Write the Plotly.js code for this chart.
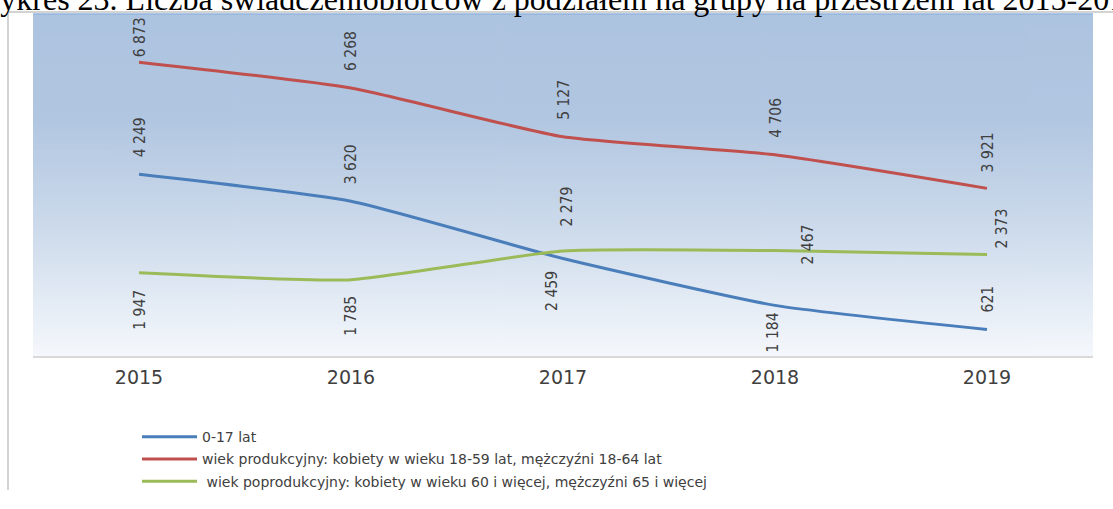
<!DOCTYPE html>
<html><head><meta charset="utf-8">
<script src="https://cdn.plot.ly/plotly-3.0.1.min.js"></script>
<style>html,body{margin:0;padding:0;background:#fff;overflow:hidden}</style>
</head><body><div id="chart" style="width:1113px;height:509px"></div>
<script>
// ---- data ----
const years = ['2015', '2016', '2017', '2018', '2019'];
const seriesNames = [
  '0-17 lat',
  'wiek produkcyjny: kobiety w wieku 18-59 lat, mężczyźni 18-64 lat',
  '\u00a0wiek poprodukcyjny: kobiety w wieku 60 i więcej, mężczyźni 65 i więcej'
];
const children = [4249, 3620, 2279, 1184, 621];
const working = [6873, 6268, 5127, 4706, 3921];
const retired = [1947, 1785, 2459, 2467, 2373];
const titleText = 'Wykres 23. Liczba świadczeniobiorców z podziałem na grupy na przestrzeni lat 2015-2019';

// ---- styles / layout config ----
const W = 1113, H = 509;
const M = {l: 33, r: 20, t: 14, b: 138};
const PW = W - M.l - M.r, PH = H - M.t - M.b;
const px2x = p => (p - M.l) / PW;
const py2y = p => (H - M.b - p) / PH;
const colors = ['#4a7ebb', '#c0504d', '#9bbb59'];
const seriesValues = [children, working, retired];
// label shifts [xshift, yshift] in px for each series / year
const labelShift = [
  [[1, 37], [0, 37], [4, 52], [-2, -27], [1, 30]],
  [[1, 25], [0, 37], [1, 37], [1, 37], [1, 36]],
  [[1, -37], [0, -36], [-11, -40], [33, 6], [15, 26]]
];

function fmt(v) { return String(v).replace(/\B(?=(\d{3})+(?!\d))/g, '\u00a0'); }

// gradient background image
const cv = document.createElement('canvas');
cv.width = 8; cv.height = PH;
const ctx = cv.getContext('2d');
const g = ctx.createLinearGradient(0, 0, 0, PH);
g.addColorStop(0, '#adc4e0');
g.addColorStop(0.3, '#b1c6e1');
g.addColorStop(0.62, '#ccdaeb');
g.addColorStop(1, '#f5f8fc');
ctx.fillStyle = g; ctx.fillRect(0, 0, 8, PH);
const bgURL = cv.toDataURL('image/png');

const traces = seriesValues.map((vals, i) => ({
  type: 'scatter', mode: 'lines', x: years, y: vals, name: seriesNames[i],
  legendgroup: 'g' + i,
  line: {color: colors[i], width: 3, shape: 'spline', smoothing: 0.5},
  hoverinfo: 'skip'
}));

const annotations = [];
seriesValues.forEach((vals, i) => {
  vals.forEach((v, j) => {
    annotations.push({
      xref: 'x', yref: 'y', x: years.indexOf(years[j]), y: v, text: fmt(v), showarrow: false,
      textangle: -90, xanchor: 'center', yanchor: 'middle',
      xshift: labelShift[i][j][0], yshift: labelShift[i][j][1],
      font: {family: 'DejaVu Sans Condensed, DejaVu Sans, sans-serif', size: 15.5, color: '#404040'}
    });
  });
});
annotations.push({
  xref: 'paper', yref: 'paper', x: px2x(-30), y: py2y(-2), xanchor: 'left', yanchor: 'middle',
  text: titleText, showarrow: false,
  font: {family: 'Liberation Serif, Times New Roman, serif', size: 32, color: '#000'}
});

const layout = {
  width: W, height: H, margin: M,
  paper_bgcolor: '#ffffff', plot_bgcolor: 'rgba(0,0,0,0)',
  showlegend: true,
  xaxis: {
    type: 'category', range: [-0.5, 4.5], showgrid: false, zeroline: false,
    showline: true, linecolor: '#d9d9d9', linewidth: 1.5, ticks: '',
    ticklabelstandoff: 4,
    tickfont: {family: 'DejaVu Sans, sans-serif', size: 19, color: '#404040'}
  },
  yaxis: {range: [0, 8000], visible: false, fixedrange: true},
  legend: {
    x: px2x(137), y: py2y(439), xanchor: 'left', yanchor: 'top',
    orientation: 'v', bgcolor: 'rgba(0,0,0,0)', itemwidth: 55, tracegroupgap: 1,
    font: {family: 'DejaVu Sans, sans-serif', size: 14, color: '#404040'}
  },
  images: [{
    source: bgURL, xref: 'paper', yref: 'paper', x: 0, y: 1, sizex: 1, sizey: 1,
    xanchor: 'left', yanchor: 'top', sizing: 'stretch', layer: 'below'
  }],
  shapes: [
    {type: 'line', xref: 'paper', yref: 'paper', x0: px2x(8), x1: px2x(8), y0: py2y(12), y1: py2y(H + 2), line: {color: '#d3d3d3', width: 2}},
    {type: 'line', xref: 'paper', yref: 'paper', x0: px2x(8), x1: px2x(W + 2), y0: py2y(12), y1: py2y(12), line: {color: '#d3d3d3', width: 2}},
    {type: 'line', xref: 'paper', yref: 'paper', x0: 0, x1: 1, y0: 1, y1: 1, line: {color: '#94b4de', width: 1.5}}
  ],
  annotations: annotations
};

Plotly.newPlot('chart', traces, layout, {displayModeBar: false, staticPlot: true});
</script>
</body></html>
